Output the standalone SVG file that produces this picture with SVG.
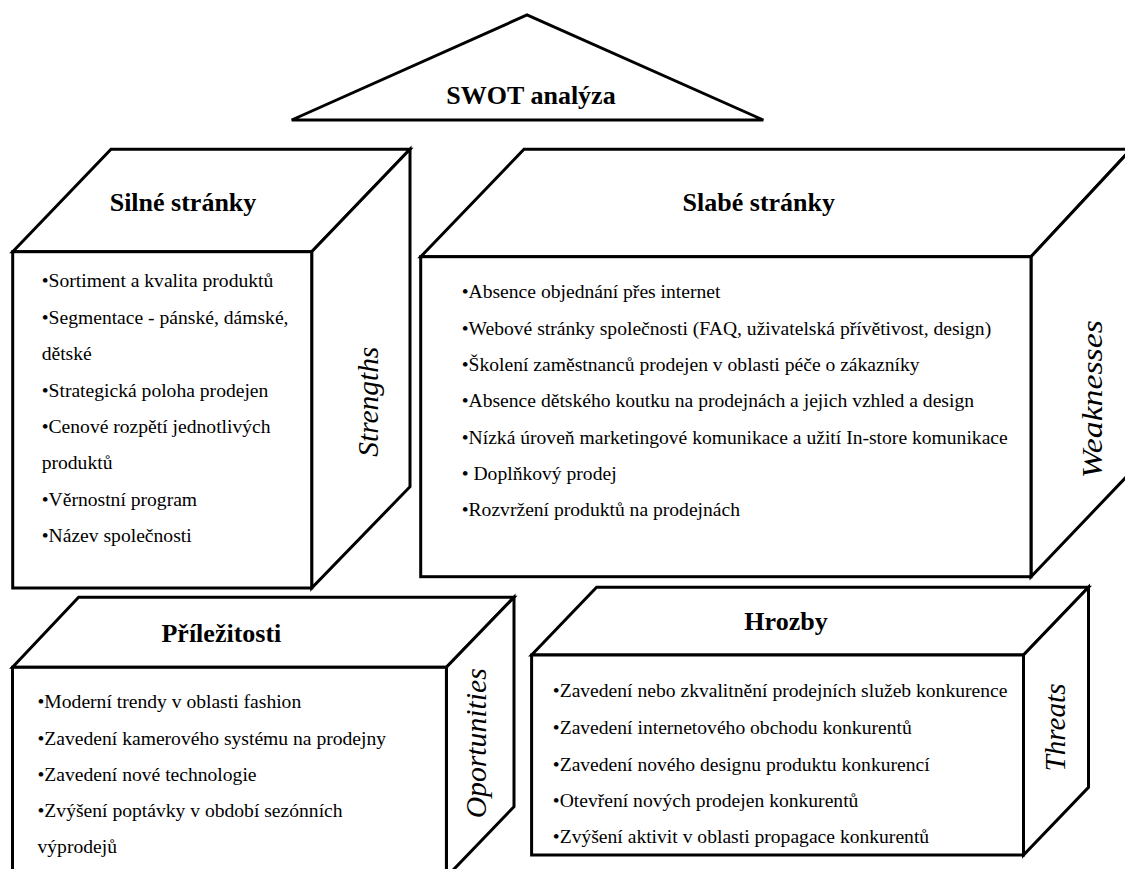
<svg xmlns="http://www.w3.org/2000/svg" width="1125" height="869" viewBox="0 0 1125 869" font-family="'Liberation Serif', 'Times New Roman', Times, 'DejaVu Serif', serif">
<style>
.shape{fill:#fff;stroke:#000;stroke-width:3;stroke-linejoin:miter}
text{font-family:'Liberation Serif','Times New Roman',Times,'DejaVu Serif',serif;fill:#000}
.title{font-weight:bold;font-size:26px;text-anchor:middle}
.item{font-size:19.6px}
.side{font-style:italic;font-size:29px;text-anchor:middle}
</style>
<rect width="1125" height="869" fill="#fff"/>

<g id="swot">
<polygon class="shape" points="291.7,120 527,15 763.3,120"/>
<text class="title" x="531" y="103.5">SWOT analýza</text>
</g>

<g id="strengths">
<polygon class="shape" points="12.7,251.7 111,149.3 410,149.3 311.7,251.7"/>
<polygon class="shape" points="311.7,251.7 410,149.3 410,486.7 311.7,588"/>
<rect class="shape" x="12.7" y="251.7" width="299" height="336.3"/>
<text class="title" x="183" y="210.7">Silné stránky</text>
<text class="item" x="41.7" y="287">•Sortiment a kvalita produktů</text>
<text class="item" x="41.7" y="323.5">•Segmentace - pánské, dámské,</text>
<text class="item" x="41.7" y="360">dětské</text>
<text class="item" x="41.7" y="396.5">•Strategická poloha prodejen</text>
<text class="item" x="41.7" y="433">•Cenové rozpětí jednotlivých</text>
<text class="item" x="41.7" y="469.3">produktů</text>
<text class="item" x="41.7" y="506">•Věrnostní program</text>
<text class="item" x="41.7" y="542.3">•Název společnosti</text>
<text class="side" transform="translate(378,401.7) rotate(-90)" textLength="110" lengthAdjust="spacingAndGlyphs">Strengths</text>
</g>

<g id="weaknesses">
<polygon class="shape" points="420.7,256.7 524,149.3 1131,149.3 1031,256.7"/>
<polygon class="shape" points="1031,256.7 1131,149.3 1131,472 1031,576.7"/>
<rect class="shape" x="420.7" y="256.7" width="610.3" height="320"/>
<text class="title" x="758.8" y="210.7">Slabé stránky</text>
<text class="item" x="461.7" y="298.3">•Absence objednání přes internet</text>
<text class="item" x="461.7" y="334.7">•Webové stránky společnosti (FAQ, uživatelská přívětivost, design)</text>
<text class="item" x="461.7" y="371">•Školení zaměstnanců prodejen v oblasti péče o zákazníky</text>
<text class="item" x="461.7" y="407.3">•Absence dětského koutku na prodejnách a jejich vzhled a design</text>
<text class="item" x="461.7" y="443.7">•Nízká úroveň marketingové komunikace a užití In-store komunikace</text>
<text class="item" x="461.7" y="480">• Doplňkový prodej</text>
<text class="item" x="461.7" y="516.3">•Rozvržení produktů na prodejnách</text>
<text class="side" transform="translate(1101.7,399.2) rotate(-90)" textLength="158" lengthAdjust="spacingAndGlyphs">Weaknesses</text>
</g>

<g id="opportunities">
<polygon class="shape" points="12.5,667.3 78.6,597.3 514,597.3 446.4,667.3"/>
<polygon class="shape" points="446.4,667.3 514,597.3 514,806.7 446.4,877"/>
<rect class="shape" x="12.5" y="667.3" width="433.9" height="210"/>
<text class="title" x="221.4" y="641.7">Příležitosti</text>
<text class="item" x="37.5" y="708.3">•Moderní trendy v oblasti fashion</text>
<text class="item" x="37.5" y="745">•Zavedení kamerového systému na prodejny</text>
<text class="item" x="37.5" y="780.7">•Zavedení nové technologie</text>
<text class="item" x="37.5" y="816.7">•Zvýšení poptávky v období sezónních</text>
<text class="item" x="37.5" y="853.3">výprodejů</text>
<text class="side" transform="translate(486,743.3) rotate(-90)" textLength="150" lengthAdjust="spacingAndGlyphs">Oportunities</text>
</g>

<g id="threats">
<polygon class="shape" points="531.6,655 596.6,587.3 1088.5,587.3 1023.5,655"/>
<polygon class="shape" points="1023.5,655 1088.5,587.3 1088.5,787.3 1023.5,855"/>
<rect class="shape" x="531.6" y="655" width="491.9" height="200"/>
<text class="title" x="786" y="630">Hrozby</text>
<text class="item" x="552.8" y="697.3">•Zavedení nebo zkvalitnění prodejních služeb konkurence</text>
<text class="item" x="552.8" y="734">•Zavedení internetového obchodu konkurentů</text>
<text class="item" x="552.8" y="770.7">•Zavedení nového designu produktu konkurencí</text>
<text class="item" x="552.8" y="807.3">•Otevření nových prodejen konkurentů</text>
<text class="item" x="552.8" y="843.3">•Zvýšení aktivit v oblasti propagace konkurentů</text>
<text class="side" transform="translate(1064.8,727.5) rotate(-90)" textLength="88" lengthAdjust="spacingAndGlyphs">Threats</text>
</g>
</svg>
